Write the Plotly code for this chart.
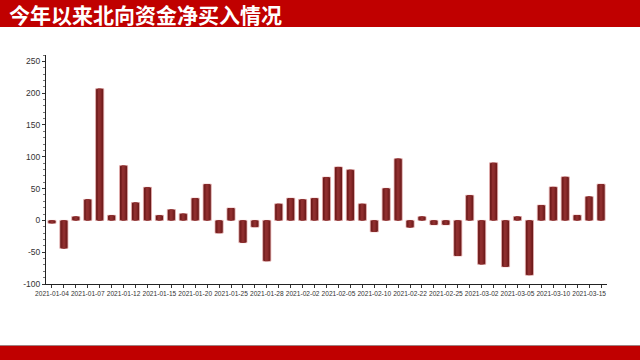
import plotly.graph_objects as go

title_text = "今年以来北向资金净买入情况"

dates = [
    "2021-01-04", "2021-01-05", "2021-01-06", "2021-01-07", "2021-01-08",
    "2021-01-11", "2021-01-12", "2021-01-13", "2021-01-14", "2021-01-15",
    "2021-01-18", "2021-01-19", "2021-01-20", "2021-01-21", "2021-01-22",
    "2021-01-25", "2021-01-26", "2021-01-27", "2021-01-28", "2021-01-29",
    "2021-02-01", "2021-02-02", "2021-02-03", "2021-02-04", "2021-02-05",
    "2021-02-08", "2021-02-09", "2021-02-10", "2021-02-18", "2021-02-19",
    "2021-02-22", "2021-02-23", "2021-02-24", "2021-02-25", "2021-02-26",
    "2021-03-01", "2021-03-02", "2021-03-03", "2021-03-04", "2021-03-05",
    "2021-03-08", "2021-03-09", "2021-03-10", "2021-03-11", "2021-03-12",
    "2021-03-15", "2021-03-16",
]

net_buy = [
    -4.5, -44, 6, 33, 207,
    8, 86, 28, 52, 8,
    17, 10.5, 35, 57, -20,
    19.5, -35, -10.5, -64, 26,
    35, 33, 35, 68, 84,
    79.5, 26, -18, 50.5, 97,
    -11, 6, -7, -7, -56,
    39.5, -69, 90.5, -73, 6,
    -86, 24, 52.6, 68.4, 8.4,
    37.4, 57,
]

x_label_dates = [
    "2021-01-04", "2021-01-07", "2021-01-12", "2021-01-15", "2021-01-20",
    "2021-01-25", "2021-01-28", "2021-02-02", "2021-02-05", "2021-02-10",
    "2021-02-22", "2021-02-25", "2021-03-02", "2021-03-05", "2021-03-10",
    "2021-03-15",
]

y_ticks = [-100, -50, 0, 50, 100, 150, 200, 250]
y_tick_labels = ["-100", "-50", "0", "50", "100", "150", "200", "250"]

RED = "#C00000"
narrow = "Liberation Sans Narrow, Arial Narrow, Liberation Sans, sans-serif"
x_font = dict(family=narrow, size=6.6, color="#333333")
y_font = dict(family=narrow, size=8.5, color="#333333")

fig = go.Figure()

# layered bars to imitate the cylindrical shading of the original
layers = [
    (0.68, "#681818", dict(color="#e8b0b0", width=0.8)),
    (0.50, "#772020", dict(width=0)),
    (0.30, "#862828", dict(width=0)),
    (0.14, "#8e2e2e", dict(width=0)),
]
for w, c, ln in layers:
    fig.add_trace(go.Bar(
        x=dates, y=net_buy, width=w,
        marker=dict(color=c, line=ln),
        showlegend=False,
    ))

ticktext = [d if d in x_label_dates else "" for d in dates]

M_L, M_R, M_T, M_B = 46, 33, 55, 76
plot_h = 360 - M_T - M_B
plot_w = 640 - M_L - M_R


def py(pix):
    return (360 - M_B - pix) / plot_h


def px(pix):
    return (pix - M_L) / plot_w


fig.update_layout(
    width=640, height=360,
    barmode="overlay",
    plot_bgcolor="white", paper_bgcolor="white",
    margin=dict(l=M_L, r=M_R, t=M_T, b=M_B, autoexpand=False),
    showlegend=False,
    xaxis=dict(
        type="category",
        range=[-0.5, len(dates) - 0.5],
        tickmode="array", tickvals=dates, ticktext=ticktext,
        tickangle=0,
        ticks="outside", ticklen=3, tickcolor="#333333", tickwidth=1,
        showline=True, linecolor="#222222", linewidth=1,
        showgrid=False, zeroline=False,
        tickfont=x_font,
    ),
    yaxis=dict(
        range=[-100, 260],
        tickmode="array", tickvals=y_ticks, ticktext=y_tick_labels,
        ticks="outside", ticklen=3, tickcolor="#333333",
        minor=dict(dtick=10, ticks="outside", ticklen=2, tickcolor="#777777", showgrid=False),
        showline=True, linecolor="#222222", linewidth=1,
        showgrid=False, zeroline=False,
        tickfont=y_font,
    ),
    shapes=[
        dict(type="rect", xref="paper", yref="paper", x0=px(-5), x1=px(645), y0=py(27), y1=py(-5),
             fillcolor=RED, line=dict(width=0), layer="below"),
        dict(type="rect", xref="paper", yref="paper", x0=px(-5), x1=px(645), y0=py(365), y1=py(346),
             fillcolor=RED, line=dict(width=0), layer="below"),
        dict(type="line", xref="paper", yref="paper", x0=px(-5), x1=px(645), y0=py(345.5), y1=py(345.5),
             line=dict(color="#a08080", width=1), layer="below"),
    ],
)

fig.add_annotation(
    text="<b>" + title_text + "</b>",
    xref="paper", yref="paper", x=px(7), y=py(14),
    xanchor="left", yanchor="middle", showarrow=False,
    font=dict(family="Noto Sans CJK SC, sans-serif", size=21, color="white"),
)

fig.write_html(
    "out.html",
    config={"displayModeBar": False},
    post_script="document.body.style.margin='0';document.body.style.padding='0';",
)
